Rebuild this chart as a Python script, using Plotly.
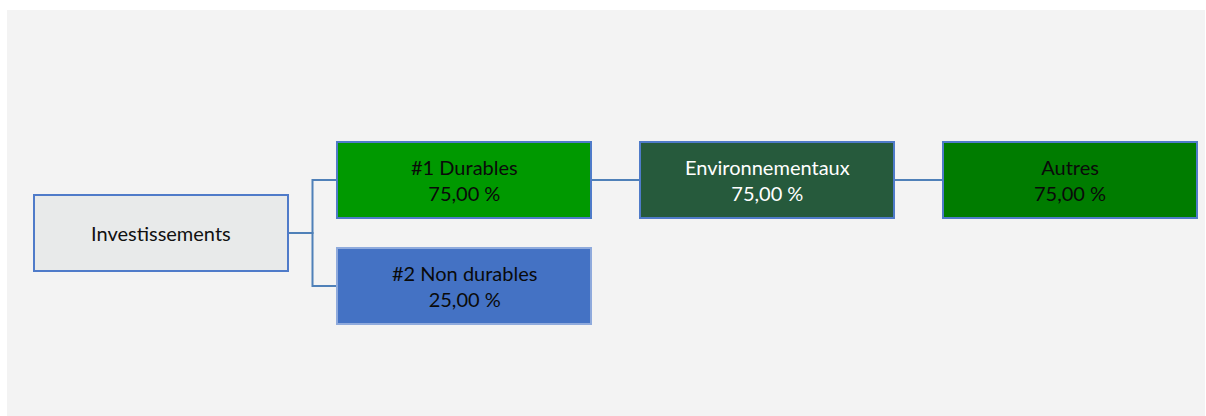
import plotly.graph_objects as go

# ---- data ----
names = ["Investissements", "#1 Durables", "#2 Non durables", "Environnementaux", "Autres"]
parents = ["", "Investissements", "Investissements", "#1 Durables", "Environnementaux"]
values = [None, 75.00, 25.00, 75.00, 75.00]

# ---- styles ----
fills = ["#e8eaea", "#009900", "#4472c4", "#265a3c", "#007c00"]
text_colors = ["#111111", "#0a0a0a", "#0a0a0a", "#ffffff", "#0a0a0a"]
border_colors = ["#4f7bc9", "#4f7bc9", "#8faadc", "#4f7bc9", "#4f7bc9"]
line_color = "#4f80b8"
W, H = 1206, 416

# ---- layout geometry (pixels) ----
x_start, x_step, box_w = 34, 303, 254
row_center = {0: 180, 1: 286}
box_h = 76


def depth(n):
    d = 0
    while parents[names.index(n)]:
        n = parents[names.index(n)]
        d += 1
    return d


children = {n: [c for c, p in zip(names, parents) if p == n] for n in names}

rows = {}
counter = [0]


def assign(n):
    ch = children[n]
    if not ch:
        rows[n] = counter[0]
        counter[0] += 1
        return rows[n]
    rs = [assign(c) for c in ch]
    rows[n] = rs[0] if len(ch) == 1 else sum(rs) / len(rs)
    return rows[n]


assign(names[0])


def center_y(n):
    r = rows[n]
    return row_center[0] + (row_center[1] - row_center[0]) * r


geo = {}
for n in names:
    d = depth(n)
    x0 = x_start + d * x_step
    cy = center_y(n)
    geo[n] = (x0, x0 + box_w, cy - box_h / 2, cy + box_h / 2, cy)

fig = go.Figure()

shapes = []
shapes.append(dict(type="rect", xref="x", yref="y", x0=7, x1=1205, y0=10, y1=H,
                   fillcolor="#f3f3f3", line=dict(width=0), layer="below"))

for n, p in zip(names, parents):
    if not p:
        continue
    px0, px1, _, _, pcy = geo[p]
    cx0, _, _, _, ccy = geo[n]
    xm = (px1 + cx0) / 2
    fig.add_trace(go.Scatter(x=[px1, xm, xm, cx0], y=[pcy, pcy, ccy, ccy], mode="lines",
                             line=dict(color=line_color, width=2), hoverinfo="skip",
                             showlegend=False))

annotations = []
for i, n in enumerate(names):
    x0, x1, y0, y1, cy = geo[n]
    shapes.append(dict(type="rect", xref="x", yref="y", x0=x0, x1=x1, y0=y0, y1=y1,
                       fillcolor=fills[i], line=dict(color=border_colors[i], width=2),
                       layer="above"))
    label = n if values[i] is None else f"{n}<br>{values[i]:.2f}".replace(".", ",") + " %"
    annotations.append(dict(x=(x0 + x1) / 2, y=cy, xref="x", yref="y", text=label,
                            showarrow=False, font=dict(family="Lato", size=20, color=text_colors[i]),
                            align="center"))

fig.update_layout(
    width=W, height=H, margin=dict(l=0, r=0, t=0, b=0),
    paper_bgcolor="#ffffff", plot_bgcolor="#ffffff",
    xaxis=dict(range=[0, W], visible=False, fixedrange=True),
    yaxis=dict(range=[H, 0], visible=False, fixedrange=True),
    shapes=shapes, annotations=annotations,
)
fig.write_html("out.html", config={"displayModeBar": False},
               post_script="document.body.style.margin='0';document.body.style.overflow='hidden';")
